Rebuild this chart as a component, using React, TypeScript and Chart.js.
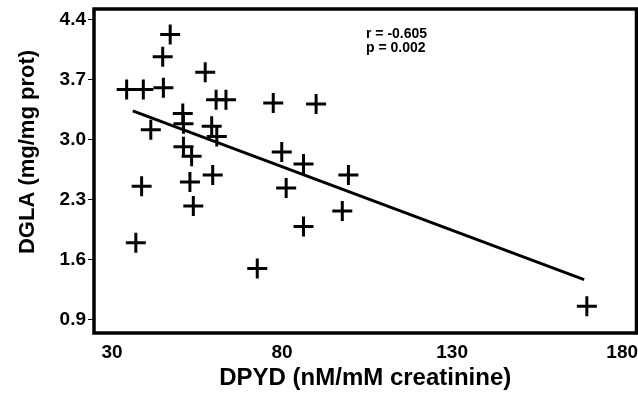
import React, { useEffect, useRef } from "react";
import { Chart, registerables } from "chart.js";

Chart.register(...registerables);

// DPYD (nM/mM creatinine) values
const dpyd = [
  47.1, 44.9, 57.4, 34.3, 39.2, 45.1, 60.6, 63.5, 77.4, 90.0,
  50.8, 51.0, 41.4, 59.3, 60.8, 51.0, 53.4, 79.9, 86.3, 99.5,
  38.7, 52.9, 59.6, 81.2, 86.3, 97.7, 53.9, 37.0, 72.7, 169.6,
];
// DGLA (mg/mg prot) values
const dgla = [
  4.23, 3.97, 3.79, 3.59, 3.59, 3.61, 3.47, 3.47, 3.43, 3.42,
  3.31, 3.19, 3.12, 3.16, 3.04, 2.92, 2.81, 2.86, 2.72, 2.59,
  2.46, 2.51, 2.59, 2.44, 1.99, 2.17, 2.23, 1.8, 1.5, 1.06,
];
// regression line end points
const fitX = [36.1, 168.8];
const fitY = [3.34, 1.37];

const xTicks = [30, 80, 130, 180];
const yTicks = [0.9, 1.6, 2.3, 3.0, 3.7, 4.4];

const xTitle = "DPYD (nM/mM creatinine)";
const yTitle = "DGLA (mg/mg prot)";
const statLines = ["r = -0.605", "p = 0.002"];

const FONT = '"Liberation Sans", Arial, Helvetica, sans-serif';

const noPad = () => ({ left: 0, right: 0, top: 0, bottom: 0 });

export default function App() {
  const ref = useRef<HTMLCanvasElement | null>(null);

  useEffect(() => {
    if (!ref.current) return;
    const framePlugin = {
      id: "frameAndTitles",
      afterDraw(chart: any) {
        const { ctx, chartArea } = chart;
        const { left, top, right, bottom } = chartArea;
        ctx.save();
        ctx.strokeStyle = "#000";
        ctx.lineWidth = 3.5;
        ctx.strokeRect(left, top, right - left, bottom - top);

        ctx.fillStyle = "#000";
        ctx.font = `bold 24px ${FONT}`;
        ctx.textAlign = "center";
        ctx.textBaseline = "alphabetic";
        ctx.fillText(xTitle, (left + right) / 2, 385);

        ctx.save();
        ctx.font = `bold 22px ${FONT}`;
        ctx.translate(34, 152);
        ctx.rotate(-Math.PI / 2);
        ctx.fillText(yTitle, 0, 0);
        ctx.restore();

        ctx.font = `bold 14px ${FONT}`;
        ctx.textAlign = "left";
        ctx.fillText(statLines[0], 366, 38, 62);
        ctx.fillText(statLines[1], 366, 52, 62);
        ctx.restore();
      },
    };

    const chart = new Chart(ref.current, {
      type: "scatter",
      data: {
        datasets: [
          {
            type: "scatter",
            data: dpyd.map((x, i) => ({ x, y: dgla[i] })),
            pointStyle: "cross",
            pointRadius: 10,
            pointHoverRadius: 10,
            borderWidth: 3,
            borderColor: "#000",
            backgroundColor: "#000",
          },
          {
            type: "line",
            data: fitX.map((x, i) => ({ x, y: fitY[i] })),
            borderColor: "#000",
            borderWidth: 3,
            pointRadius: 0,
            fill: false,
          } as any,
        ],
      },
      options: {
        animation: false,
        responsive: false,
        devicePixelRatio: 1,
        layout: { autoPadding: false, padding: { top: 9, right: 1.5, left: 0, bottom: 0 } },
        plugins: {
          legend: { display: false },
          tooltip: { enabled: false },
        },
        scales: {
          x: {
            type: "linear",
            min: 24.7,
            max: 184.2,
            border: { display: false },
            grid: { display: false, drawTicks: false, tickLength: 0 },
            afterBuildTicks: (s: any) => {
              s.ticks = xTicks.map((v) => ({ value: v }));
            },
            afterFit: (s: any) => {
              s.height = 65;
              s.paddingLeft = 0;
              s.paddingRight = 0;
              s.getPadding = noPad;
            },
            ticks: {
              color: "#000",
              padding: 8,
              autoSkip: false,
              maxRotation: 0,
              font: { family: FONT, size: 19, weight: "bold" },
              callback: (v: any) => String(v),
            },
          },
          y: {
            type: "linear",
            min: 0.748,
            max: 4.528,
            border: { display: false },
            grid: {
              display: true,
              drawOnChartArea: false,
              drawTicks: true,
              tickLength: 6,
              color: "#000",
              lineWidth: 1,
            },
            afterBuildTicks: (s: any) => {
              s.ticks = yTicks.map((v) => ({ value: v }));
            },
            afterFit: (s: any) => {
              s.width = 94;
              s.paddingTop = 0;
              s.paddingBottom = 0;
              s.getPadding = noPad;
            },
            ticks: {
              color: "#000",
              padding: 2,
              autoSkip: false,
              font: { family: FONT, size: 19, weight: "bold" },
              callback: (v: any) => Number(v).toFixed(1),
            },
          },
        },
      },
      plugins: [framePlugin],
    } as any);
    return () => chart.destroy();
  }, []);

  return (
    <div style={{ position: "fixed", left: 0, top: 0, width: 638, height: 398, background: "#fff" }}>
      <canvas ref={ref} width={638} height={398} style={{ display: "block" }} />
    </div>
  );
}
